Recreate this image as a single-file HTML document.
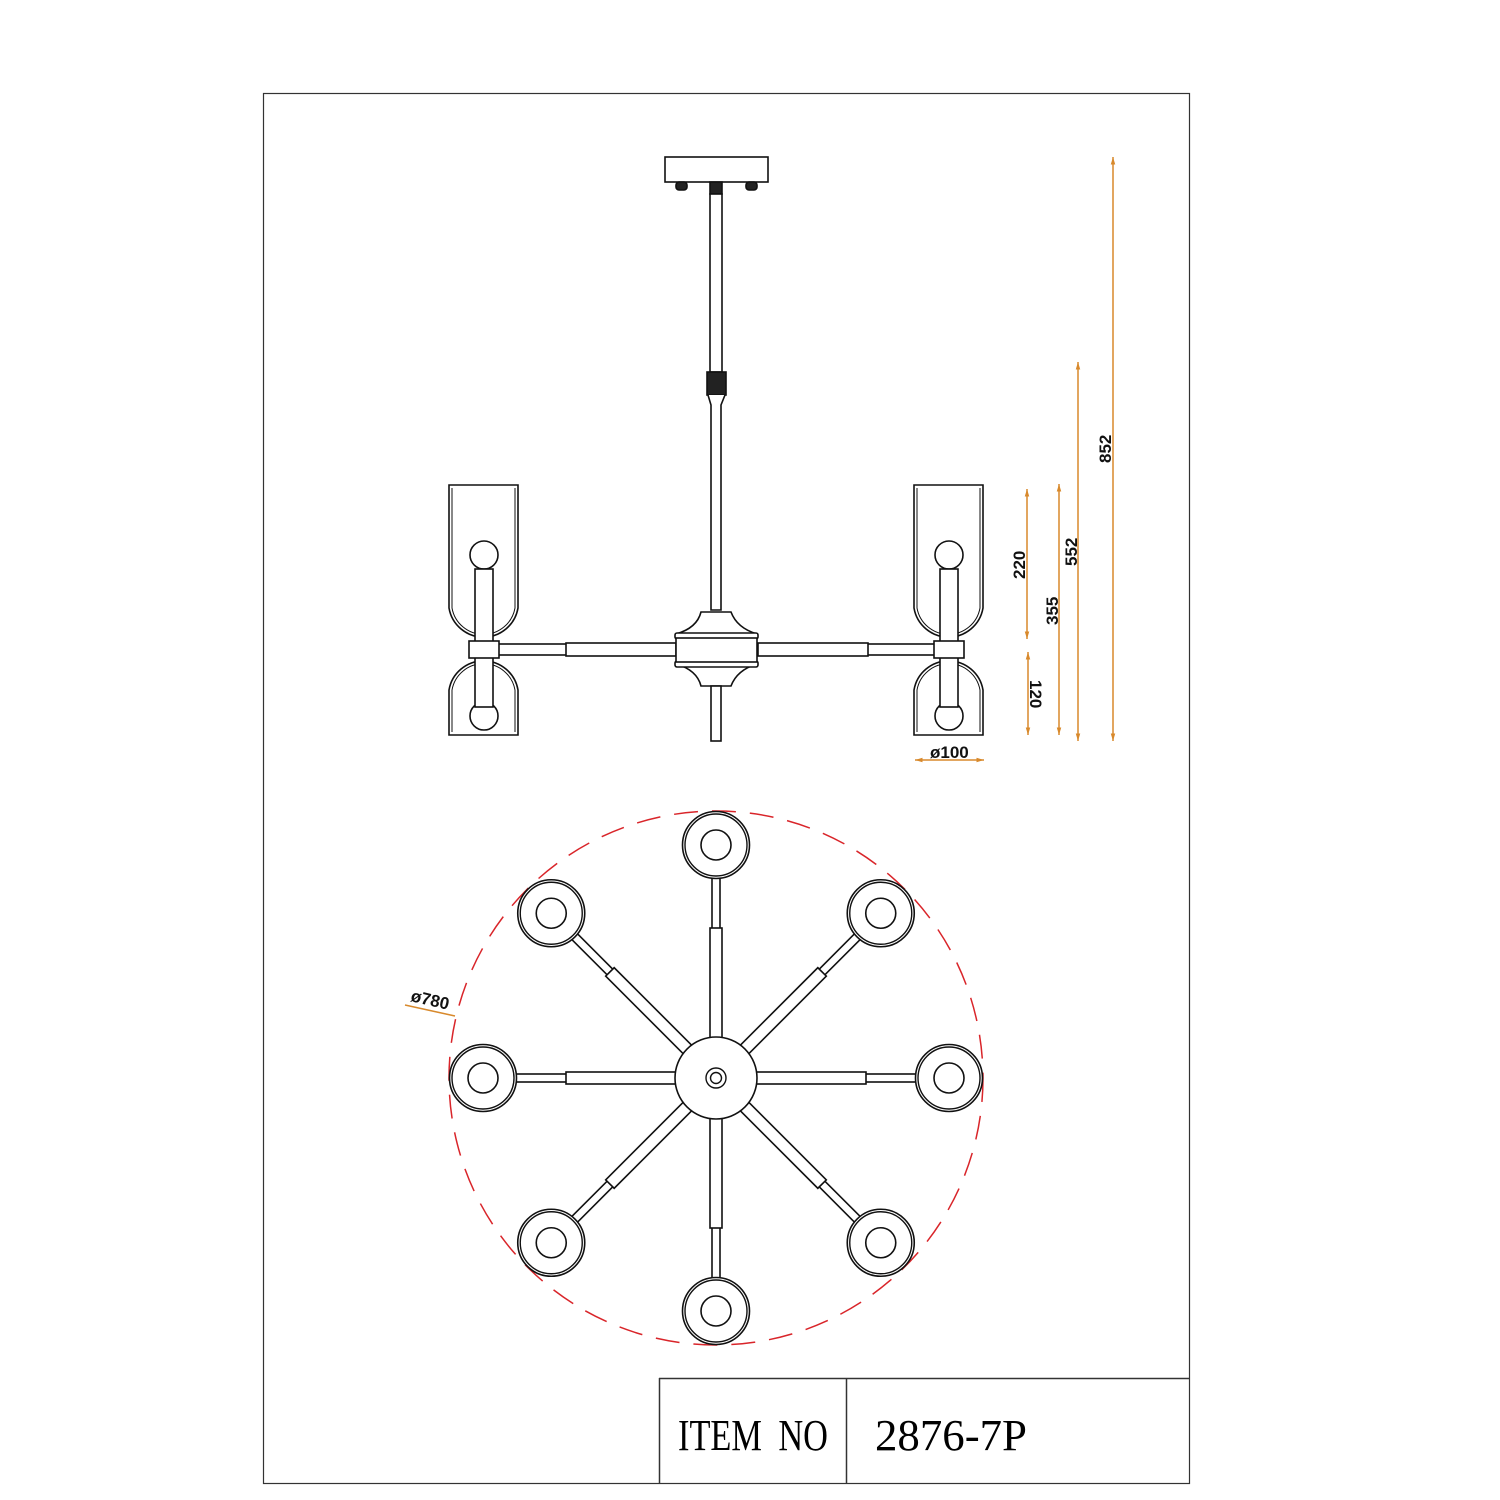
<!DOCTYPE html>
<html><head><style>html,body{margin:0;padding:0;background:#fff;}svg{display:block}</style></head>
<body>
<svg width="1500" height="1500" viewBox="0 0 1500 1500" xmlns="http://www.w3.org/2000/svg">
<defs>
<g id="fix" fill="none" stroke="#111" stroke-width="1.6">
  <path d="M449,485 V608 A35,35 0 0 0 518,608 V485 Z"/>
  <path d="M452,488 V608 A32,32 0 0 0 515,608 V488" stroke-width="1"/>
  <path d="M449,735 V690 A35,35 0 0 1 518,690 V735 Z"/>
  <path d="M452,732 V690 A32,32 0 0 1 515,690 V732" stroke-width="1"/>
  <circle cx="484" cy="555" r="14" fill="#fff"/>
  <rect x="475" y="569" width="18" height="73" fill="#fff"/>
  <circle cx="484" cy="716" r="14" fill="#fff"/>
  <rect x="475" y="657" width="18" height="50" fill="#fff"/>
  <rect x="469" y="641" width="30" height="17" fill="#fff"/>
</g>
<g id="arm" fill="#fff" stroke="#111" stroke-width="1.6">
  <rect x="-4" y="-201" width="8" height="52"/>
  <rect x="-6" y="-150" width="12" height="110"/>
  <circle cx="0" cy="-233" r="33.5" stroke-width="1.6"/>
  <circle cx="0" cy="-233" r="31" stroke-width="1.4"/>
  <circle cx="0" cy="-233" r="15"/>
</g>
<marker id="ah" viewBox="0 0 10 10" refX="10" refY="5" markerWidth="5" markerHeight="5" orient="auto-start-reverse"><path d="M0,2 L10,5 L0,8 Z" fill="#d8892c"/></marker>
</defs>
<rect x="263.5" y="93.5" width="926" height="1390" fill="none" stroke="#333" stroke-width="1.2"/>
<path d="M659,1378.5 H1189 M659.5,1378 V1483 M846.5,1378 V1483" stroke="#333" stroke-width="1.5" fill="none"/>
<text x="678" y="1450" font-family="Liberation Serif, serif" font-size="44" textLength="150" lengthAdjust="spacingAndGlyphs" word-spacing="10">ITEM NO</text>
<text x="875" y="1450" font-family="Liberation Serif, serif" font-size="44" textLength="152" lengthAdjust="spacingAndGlyphs">2876-7P</text>

<g fill="#fff" stroke="#111" stroke-width="1.6">
  <rect x="665" y="157" width="103" height="25"/>
  <rect x="676" y="182" width="11" height="8" rx="3" fill="#222"/>
  <rect x="746" y="182" width="11" height="8" rx="3" fill="#222"/>
  <rect x="710" y="182" width="12" height="12" fill="#222"/>
  <rect x="710" y="194" width="12" height="178"/>
  <rect x="707" y="372" width="19" height="23" fill="#222"/>
  <path d="M708,395 L711,405 V610 H721 V405 L725,395"/>
  <rect x="498" y="644" width="70" height="11"/>
  <rect x="866" y="644" width="70" height="11"/>
  <rect x="566" y="643" width="110" height="13"/>
  <rect x="758" y="643" width="110" height="13"/>
  <path d="M701,612 H731 Q737,628 757,634 H676 Q697,628 701,612 Z"/>
  <path d="M701,686 H731 Q737,670 757,664 H676 Q697,670 701,686 Z"/>
  <rect x="675" y="633" width="83" height="6" rx="2"/>
  <rect x="675" y="661" width="83" height="6" rx="2"/>
  <rect x="676" y="638" width="81" height="24"/>
  <rect x="711" y="686" width="10" height="55"/>
</g>
<use href="#fix"/>
<use href="#fix" transform="translate(465,0)"/>

<g stroke="#d8892c" stroke-width="1.5" fill="none" marker-start="url(#ah)" marker-end="url(#ah)">
  <line x1="1113" y1="157" x2="1113" y2="741"/>
  <line x1="1078" y1="362" x2="1078" y2="741"/>
  <line x1="1059" y1="484" x2="1059" y2="735"/>
  <line x1="1027" y1="489" x2="1027" y2="639"/>
  <line x1="1028" y1="652" x2="1028" y2="735"/>
  <line x1="915" y1="760" x2="984" y2="760"/>
</g>
<line x1="405" y1="1005" x2="455" y2="1016" stroke="#d8892c" stroke-width="1.5"/>
<g font-family="Liberation Sans, sans-serif" font-weight="bold" font-size="17" fill="#111">
  <text transform="translate(1111,463) rotate(-90)">852</text>
  <text transform="translate(1077,566) rotate(-90)">552</text>
  <text transform="translate(1058,625) rotate(-90)">355</text>
  <text transform="translate(1025,579) rotate(-90)">220</text>
  <text transform="translate(1030,680) rotate(90)">120</text>
  <text x="930" y="758">ø100</text>
  <text transform="translate(410,1001) rotate(13)">ø780</text>
</g>

<circle cx="716" cy="1078" r="267" fill="none" stroke="#d9252a" stroke-width="1.5" stroke-dasharray="24,14"/>
<g transform="translate(716,1078)">
  <use href="#arm" transform="rotate(0)"/>
  <use href="#arm" transform="rotate(45)"/>
  <use href="#arm" transform="rotate(90)"/>
  <use href="#arm" transform="rotate(135)"/>
  <use href="#arm" transform="rotate(180)"/>
  <use href="#arm" transform="rotate(225)"/>
  <use href="#arm" transform="rotate(270)"/>
  <use href="#arm" transform="rotate(315)"/>
  <circle r="41" fill="#fff" stroke="#111" stroke-width="1.6"/>
  <circle r="10" fill="none" stroke="#111" stroke-width="1.4"/>
  <circle r="5.5" fill="none" stroke="#111" stroke-width="1.4"/>
</g>
</svg>
</body></html>
